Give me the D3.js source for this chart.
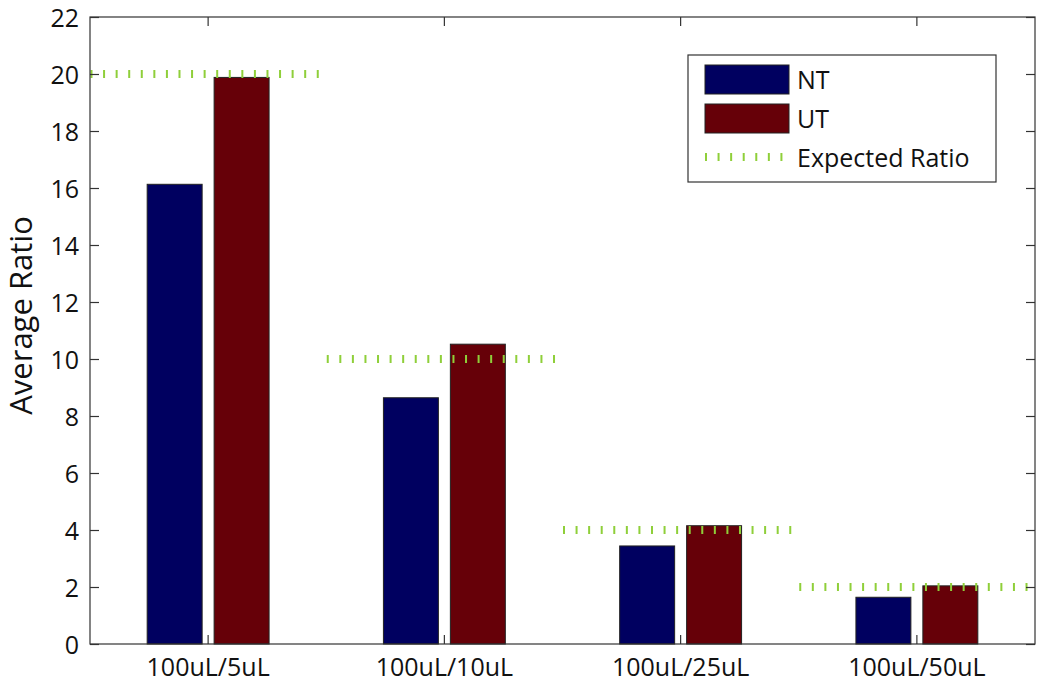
<!DOCTYPE html>
<html>
<head>
<meta charset="utf-8">
<script src="https://cdn.jsdelivr.net/npm/d3@7"></script>
<style>
html,body{margin:0;padding:0;background:#fff;}
svg{display:block;font-family:"Open Sans",sans-serif;}
</style>
</head>
<body>
<svg id="chart" width="1050" height="690"></svg>
<script>
const categories = ["100uL/5uL", "100uL/10uL", "100uL/25uL", "100uL/50uL"];
const seriesNames = ["NT", "UT"];
const ntValues = [16.13, 8.64, 3.44, 1.64];
const utValues = [19.88, 10.52, 4.15, 2.04];
const expectedValues = [20, 10, 4, 2];
const yTicks = [0, 2, 4, 6, 8, 10, 12, 14, 16, 18, 20, 22];
const colors = {NT: "#000060", UT: "#660008", expected: "#8fcf3a"};

const svg = d3.select("#chart");
const margin = {left: 90, right: 15, top: 17, bottom: 46};
const W = 1050, H = 690;
const x0 = margin.left, x1 = W - margin.right, y0 = H - margin.bottom, y1 = margin.top;

const x = d3.scaleBand().domain(categories).range([x0, x1]).padding(0);
const bw = x.bandwidth();
const xs = d3.scaleBand().domain(seriesNames).range([-0.258 * bw, 0.258 * bw]).paddingInner(0.179).paddingOuter(0);
const y = d3.scaleLinear().domain([0, 22]).range([y0, y1]);

const rows = categories.map((c, i) => ({cat: c, NT: ntValues[i], UT: utValues[i], exp: expectedValues[i]}));

// bars
const g = svg.append("g");
rows.forEach(r => {
  seriesNames.forEach(s => {
    const cx = x(r.cat) + bw / 2;
    g.append("rect")
      .attr("x", cx + xs(s))
      .attr("y", y(r[s]))
      .attr("width", xs.bandwidth())
      .attr("height", y(0) - y(r[s]))
      .attr("fill", colors[s])
      .attr("stroke", "#222")
      .attr("stroke-width", 1);
  });
});

// expected ratio lines (tick-marker style)
rows.forEach(r => {
  const cx = x(r.cat) + bw / 2;
  svg.append("line")
    .attr("x1", cx - bw / 2 + 0.5).attr("x2", cx + bw / 2)
    .attr("y1", y(r.exp)).attr("y2", y(r.exp))
    .attr("stroke", colors.expected)
    .attr("stroke-width", 8)
    .attr("stroke-dasharray", "2 10.57");
});

// axes box
const axisColor = "#333";
svg.append("rect").attr("x", x0).attr("y", y1).attr("width", x1 - x0).attr("height", y0 - y1)
  .attr("fill", "none").attr("stroke", axisColor).attr("stroke-width", 1.2);

const fs = "25px";
// y axis left (inward ticks)
const yAxisL = svg.append("g").attr("transform", `translate(${x0},0)`)
  .call(d3.axisLeft(y).tickValues(yTicks).tickSize(-9).tickPadding(11).tickFormat(d3.format("d")));
// y axis right
const yAxisR = svg.append("g").attr("transform", `translate(${x1},0)`)
  .call(d3.axisRight(y).tickValues(yTicks).tickSize(-9).tickFormat(""));
// x axis bottom
const xAxisB = svg.append("g").attr("transform", `translate(0,${y0})`)
  .call(d3.axisBottom(x).tickSize(-9).tickPadding(14));
// x axis top
const xAxisT = svg.append("g").attr("transform", `translate(0,${y1})`)
  .call(d3.axisTop(x).tickSize(-9).tickFormat(""));

[yAxisL, yAxisR, xAxisB, xAxisT].forEach(a => {
  a.select(".domain").remove();
  a.selectAll(".tick line").attr("stroke", axisColor).attr("stroke-width", 1.2);
  a.selectAll("text").attr("fill", "#111").style("font-size", fs).style("font-family", "'Open Sans', sans-serif");
});
yAxisL.selectAll("text").attr("dy", "0.36em");

// y label
svg.append("text")
  .attr("transform", `translate(32,${(y0 + y1) / 2 - 15}) rotate(-90)`)
  .attr("text-anchor", "middle")
  .style("font-size", "31px")
  .attr("fill", "#111")
  .text("Average Ratio");

// legend
const lg = svg.append("g");
lg.append("rect").attr("x", 688).attr("y", 55).attr("width", 308).attr("height", 127)
  .attr("fill", "#fff").attr("stroke", axisColor).attr("stroke-width", 1.2);
const legendItems = [
  {name: "NT", type: "bar", color: colors.NT},
  {name: "UT", type: "bar", color: colors.UT},
  {name: "Expected Ratio", type: "line", color: colors.expected}
];
legendItems.forEach((it, i) => {
  const cy = 80 + i * 39;
  if (it.type === "bar") {
    lg.append("rect").attr("x", 705).attr("y", cy - 15).attr("width", 84).attr("height", 29)
      .attr("fill", it.color).attr("stroke", "#222").attr("stroke-width", 1);
  } else {
    lg.append("line").attr("x1", 705).attr("x2", 790).attr("y1", cy - 1).attr("y2", cy - 1)
      .attr("stroke", it.color).attr("stroke-width", 8).attr("stroke-dasharray", "2 10.57");
  }
  lg.append("text").attr("x", 797).attr("y", cy).attr("dy", "0.36em")
    .style("font-size", fs).attr("fill", "#111").text(it.name);
});
</script>
</body>
</html>
